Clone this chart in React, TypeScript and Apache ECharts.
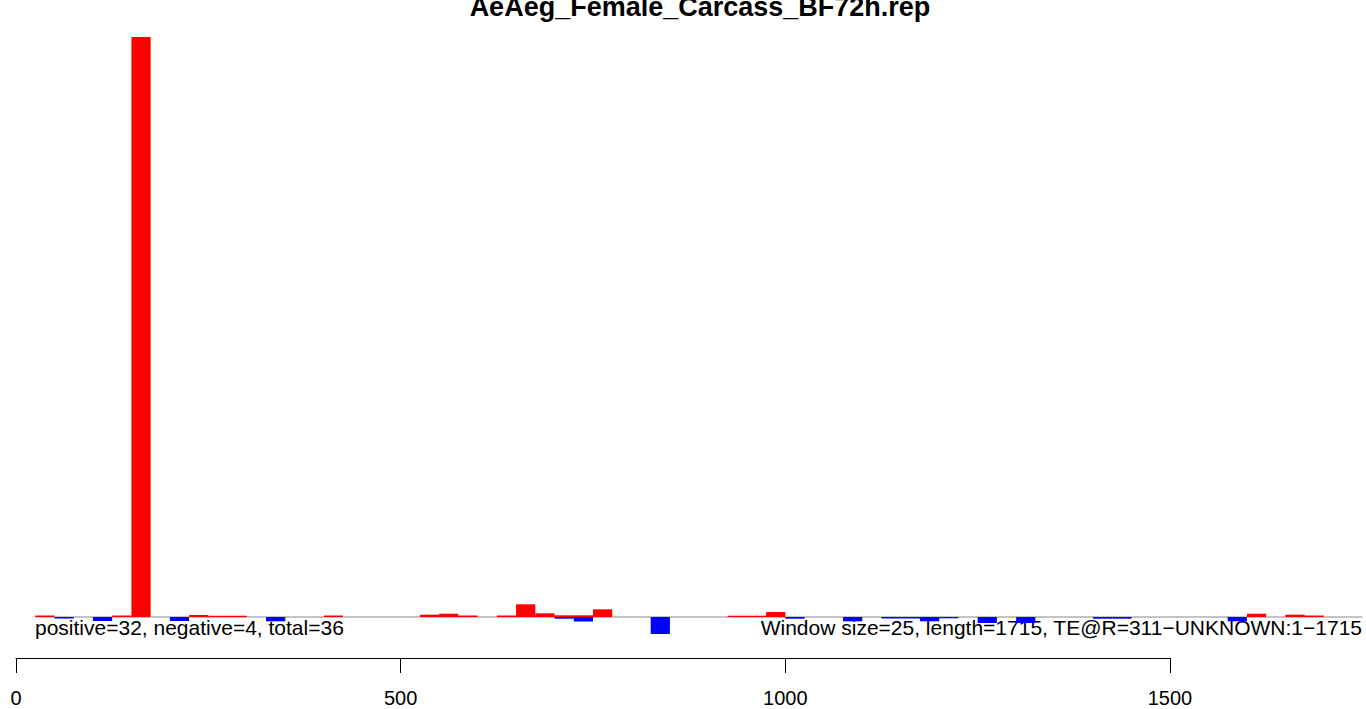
import React, { useEffect, useRef } from "react";
import * as echarts from "echarts";

const TITLE = "AeAeg_Female_Carcass_BF72h.rep";
const WINDOW = 25;
const BASELINE_RANGE = [25, 1750];
const SUMMARY_LEFT = "positive=32, negative=4, total=36";
const SUMMARY_RIGHT = "Window size=25, length=1715, TE@R=311\u2212UNKNOWN:1\u22121715";

// window index (start = index * WINDOW) and signal of positive-strand windows
const posBins = [1, 5, 6, 9, 10, 11, 16, 21, 22, 23, 25, 26, 27, 28, 29, 30, 37, 38, 39, 64, 66, 67];
const posValues = [1.5, 1.5, 580, 2, 1.3, 1.3, 1.5, 2.3, 3.3, 1.5, 1.5, 12.7, 3.7, 1.7, 1.7, 7.7, 1.3, 1.3, 5, 3.3, 2.3, 1.5];

// negative-strand windows
const negBins = [2, 4, 8, 13, 28, 29, 33, 40, 43, 45, 46, 47, 48, 50, 52, 56, 57, 63];
const negValues = [-1.5, -4, -4, -4.3, -1.7, -4.5, -17, -1.7, -4.3, -1.5, -1.5, -4.3, -1.3, -6, -6, -1.7, -1.7, -4.3];

const axisTicks = [0, 500, 1000, 1500];

const FONT = "'Liberation Sans', Arial, Helvetica, sans-serif";

export default function App() {
  const ref = useRef<HTMLDivElement>(null);

  useEffect(() => {
    if (!ref.current) return;
    const chart = echarts.init(ref.current, undefined, { renderer: "svg" });

    const posData = posBins.map((b, i) => [b * WINDOW, posValues[i]]);
    const negData = negBins.map((b, i) => [b * WINDOW, negValues[i]]);

    const makeRender = (color: string) => (params: any, api: any) => {
      const x0 = api.value(0);
      const v = api.value(1);
      const p1 = api.coord([x0, v]);
      const p2 = api.coord([x0 + WINDOW, 0]);
      return {
        type: "rect",
        shape: {
          x: p1[0],
          y: Math.min(p1[1], p2[1]),
          width: p2[0] - p1[0],
          height: Math.abs(p2[1] - p1[1]),
        },
        style: { fill: color },
      };
    };

    const tickMax = axisTicks[axisTicks.length - 1];
    const bottomWidth = 1154;
    const topWidth = (bottomWidth * BASELINE_RANGE[1]) / tickMax;

    chart.setOption({
      animation: false,
      backgroundColor: "#ffffff",
      grid: [
        { left: 16, top: 37, width: topWidth, height: 600 },
        { left: 16, top: 650, width: bottomWidth, height: 8 },
      ],
      xAxis: [
        {
          type: "value",
          gridIndex: 0,
          min: 0,
          max: BASELINE_RANGE[1],
          show: false,
        },
        {
          type: "value",
          gridIndex: 1,
          min: axisTicks[0],
          max: tickMax,
          interval: axisTicks[1] - axisTicks[0],
          position: "bottom",
          axisLine: { show: true, lineStyle: { color: "#000", width: 1 } },
          axisTick: { show: true, length: 15, lineStyle: { color: "#000", width: 1 } },
          axisLabel: {
            show: true,
            color: "#000",
            fontSize: 20,
            fontFamily: FONT,
            margin: 30,
            showMinLabel: true,
            showMaxLabel: true,
            formatter: (v: number) => String(v),
          },
          splitLine: { show: false },
        },
      ],
      yAxis: [
        { type: "value", gridIndex: 0, min: -20, max: 580, show: false },
        { type: "value", gridIndex: 1, min: 0, max: 1, show: false },
      ],
      graphic: [
        {
          type: "text",
          x: 700,
          y: 7,
          style: {
            text: TITLE,
            font: `bold 27px ${FONT}`,
            fill: "#000",
            align: "center",
            verticalAlign: "middle",
          },
        },
        {
          type: "text",
          x: 35,
          y: 627,
          style: {
            text: SUMMARY_LEFT,
            font: `21px ${FONT}`,
            fill: "#000",
            align: "left",
            verticalAlign: "middle",
          },
        },
        {
          type: "text",
          x: 1362,
          y: 627,
          style: {
            text: SUMMARY_RIGHT,
            font: `21px ${FONT}`,
            fill: "#000",
            align: "right",
            verticalAlign: "middle",
          },
        },
      ],
      series: [
        {
          type: "line",
          xAxisIndex: 0,
          yAxisIndex: 0,
          data: [
            [BASELINE_RANGE[0], 0],
            [BASELINE_RANGE[1], 0],
          ],
          symbol: "none",
          lineStyle: { color: "#888888", width: 1 },
          silent: true,
          z: 1,
        },
        {
          type: "custom",
          xAxisIndex: 0,
          yAxisIndex: 0,
          data: posData,
          renderItem: makeRender("#ff0000"),
          z: 2,
        },
        {
          type: "custom",
          xAxisIndex: 0,
          yAxisIndex: 0,
          data: negData,
          renderItem: makeRender("#0000ff"),
          z: 2,
        },
      ],
    });

    return () => chart.dispose();
  }, []);

  return (
    <div
      ref={ref}
      style={{ position: "fixed", left: 0, top: 0, width: 1366, height: 709, background: "#fff" }}
    />
  );
}
